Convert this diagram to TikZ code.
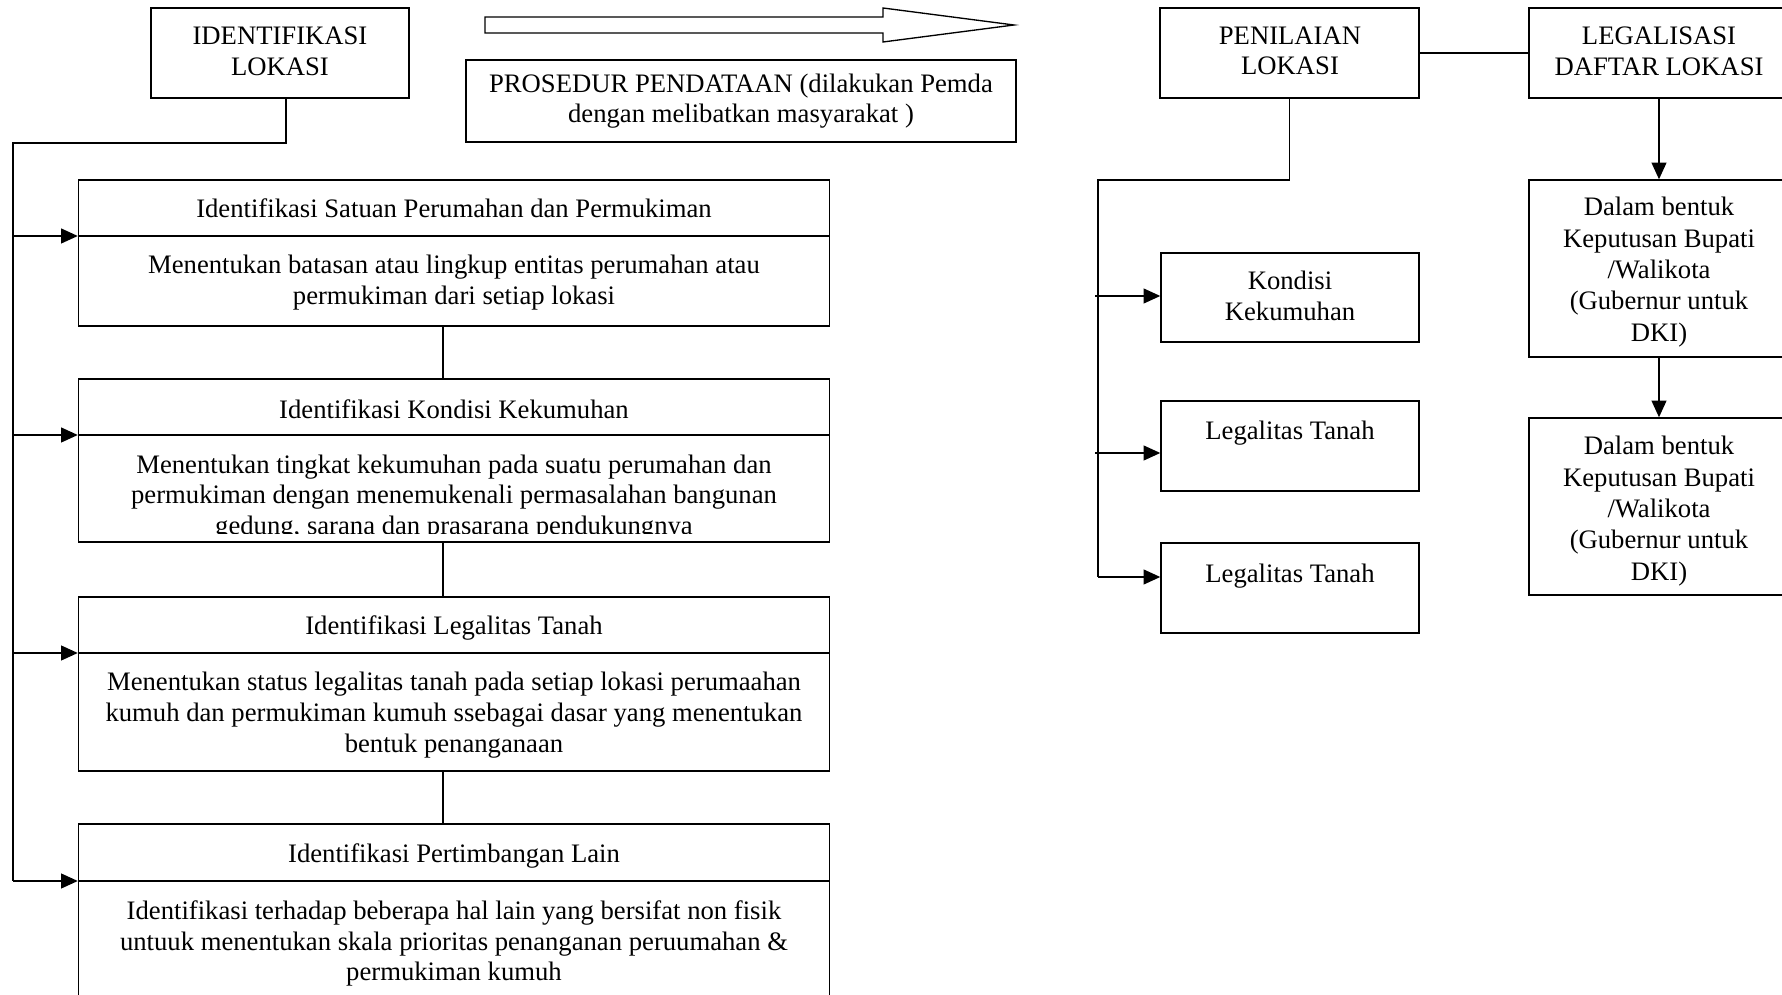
\documentclass[tikz,border=0pt]{standalone}
\usepackage{fontspec}
\setmainfont{Liberation Serif}
\usetikzlibrary{arrows.meta,fit}
\begin{document}
\begin{tikzpicture}[x=0.45pt,y=-0.45pt,
  txt/.style={font=\fontsize{12}{13.8}\selectfont, align=center, inner sep=0pt},
  box/.style={draw, line width=0.6pt, inner sep=0pt},
  thin/.style={line width=0.6pt},
  trunk/.style={line width=0.75pt},
  arr/.style={line width=0.9pt, -{Triangle[length=7.5pt,width=6.6pt]}},
  rule/.style={line width=0.9pt}]
\useasboundingbox (0,0) rectangle (1782,995);
\clip (0,0) rectangle (1782,995);

% ---------- header row, left ----------
\node[box, fit={(151,8) (409,98)}] (ident) {};
\node[txt] (identt) at (280,51) {IDENTIFIKASI\\LOKASI};
\draw[thin] (485,17) -- (883,17) -- (883,8) -- (1014,25) -- (883,42) -- (883,33) -- (485,33) -- cycle;
\node[box, fit={(466,60) (1016,142)}] (proc) {};
\node[txt] (proct) at (741,101) {PROSEDUR PENDATAAN (dilakukan Pemda\\dengan melibatkan masyarakat )};

% ---------- identification steps ----------
\node[box, fit={(78.5,180) (829.5,326)}] (b1) {};
\node[txt] (b1t) at (454,208) {Identifikasi Satuan Perumahan dan Permukiman};
\node[txt] (b1b) at (454,282.5) {Menentukan batasan atau lingkup entitas perumahan atau\\permukiman dari setiap lokasi};

\node[box, fit={(78.5,379) (829.5,542)}] (b2) {};
\node[txt] (b2t) at (454,409) {Identifikasi Kondisi Kekumuhan};
\begin{scope}
  \clip (80,437) rectangle (828,534);
  \node[txt] (b2b) at (454,497.5) {Menentukan tingkat kekumuhan pada suatu perumahan dan\\permukiman dengan menemukenali permasalahan bangunan\\gedung, sarana dan prasarana pendukungnya};
\end{scope}

\node[box, fit={(78.5,597) (829.5,771)}] (b3) {};
\node[txt] (b3t) at (454,628) {Identifikasi Legalitas Tanah};
\node[txt] (b3b) at (454,715) {Menentukan status legalitas tanah pada setiap lokasi perumaahan\\kumuh dan permukiman kumuh ssebagai dasar yang menentukan\\bentuk penanganaan};

\node[box, fit={(78.5,824) (829.5,1060)}] (b4) {};
\node[txt] (b4t) at (454,855.5) {Identifikasi Pertimbangan Lain};
\node[txt] (b4b) at (454,943.5) {Identifikasi terhadap beberapa hal lain yang bersifat non fisik\\untuuk menentukan skala prioritas penanganan peruumahan \&\\permukiman kumuh};

% left trunk and branch arrows
\coordinate (ix) at (286,0);
\coordinate (top) at (13,143);
\coordinate (s1) at (13,236);
\coordinate (s2) at (13,435);
\coordinate (s3) at (13,653);
\coordinate (s4) at (13,881);
\draw[trunk] (ident.south -| ix) |- (top) -- (s4);
\foreach \s/\b in {s1/b1,s2/b2,s3/b3,s4/b4}{
  \draw[rule] (\s -| \b.west) -- (\s -| \b.east);
  \draw[arr] (\s) -- (\s -| \b.west);
}

% links between the steps
\coordinate (cx) at (443,0);
\draw[thin] (b1.south -| cx) -- (b2.north -| cx);
\draw[thin] (b2.south -| cx) -- (b3.north -| cx);
\draw[thin] (b3.south -| cx) -- (b4.north -| cx);

% ---------- assessment ----------
\node[box, fit={(1160,8) (1419,98)}] (pen) {};
\node[txt] (pent) at (1290,51) {PENILAIAN\\LOKASI};
\node[box, fit={(1529,8) (1789,98)}] (leg) {};
\node[txt] (legt) at (1659,51) {LEGALISASI\\DAFTAR LOKASI};
\draw[thin] (pen.east) -- (leg.west);

\node[box, fit={(1161,253) (1419,342)}] (kon) {};
\node[txt] (kont) at (1290,296) {Kondisi\\Kekumuhan};
\node[box, fit={(1161,401) (1419,491)}] (lt1) {};
\node[txt] (lt1t) at (1290,433) {Legalitas Tanah};
\node[box, fit={(1161,543) (1419,633)}] (lt2) {};
\node[txt] (lt2t) at (1290,576) {Legalitas Tanah};

\coordinate (rt) at (1098,180);
\coordinate (r1) at (1095,296);
\coordinate (r2) at (1095,453);
\coordinate (r3) at (1098,577);
\draw[trunk] (pen.south) |- (rt) -- (r3);
\draw[arr] (r1) -- (r1 -| kon.west);
\draw[arr] (r2) -- (r2 -| lt1.west);
\draw[arr] (r3) -- (r3 -| lt2.west);

% ---------- legalisation ----------
\node[box, fit={(1529,180) (1789,357)}] (d1) {};
\node[txt, font=\fontsize{12}{14.1}\selectfont] (d1t) at (1659,272) {Dalam bentuk\\Keputusan Bupati\\/Walikota\\(Gubernur untuk\\DKI)};
\node[box, fit={(1529,418) (1789,595)}] (d2) {};
\node[txt, font=\fontsize{12}{14.1}\selectfont] (d2t) at (1659,511) {Dalam bentuk\\Keputusan Bupati\\/Walikota\\(Gubernur untuk\\DKI)};
\draw[arr] (leg.south) -- (d1.north);
\draw[arr] (d1.south) -- (d2.north);
\end{tikzpicture}
\end{document}
